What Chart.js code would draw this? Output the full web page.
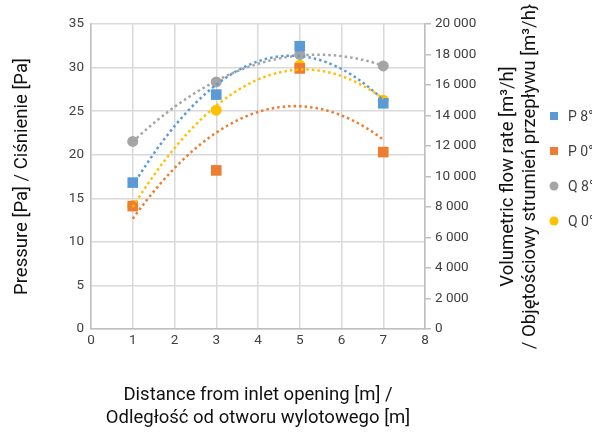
<!DOCTYPE html>
<html>
<head>
<meta charset="utf-8">
<script src="https://cdn.jsdelivr.net/npm/chart.js@4/dist/chart.umd.min.js"></script>
<style>
  html, body { margin: 0; padding: 0; background: #fff; }
  canvas { display: block; }
</style>
</head>
<body>
<canvas id="myChart" width="592" height="435"></canvas>
<script>
// distance from inlet [m]
var distance = [1, 3, 5, 7];
// pressure [Pa]
var pressure8 = [16.8, 26.9, 32.45, 25.9];
var pressure0 = [14.1, 18.2, 29.9, 20.3];
// flow rate [m3/h]
var flow8 = [12300, 16200, 18000, 17250];
var flow0 = [8100, 14350, 17300, 15000];

var seriesNames = ["P 8°", "P 0°", "Q 8°", "Q 0°"];
var colors = ["#5B9BD5", "#ED7D31", "#A5A5A5", "#FFC000"];

var FONT = "Roboto";
var TICK_COLOR = "#404040";
var TITLE_COLOR = "#111111";
var GRID = "#d9d9d9";

function points(ys) {
  return distance.map(function (x, i) { return { x: x, y: ys[i] }; });
}

// least squares fit y = a + b x + c x^2
function quadFit(pts) {
  var s = [0, 0, 0, 0, 0], t = [0, 0, 0];
  pts.forEach(function (p) {
    for (var k = 0; k < 5; k++) s[k] += Math.pow(p.x, k);
    for (var k = 0; k < 3; k++) t[k] += p.y * Math.pow(p.x, k);
  });
  var m = [[s[0], s[1], s[2], t[0]], [s[1], s[2], s[3], t[1]], [s[2], s[3], s[4], t[2]]];
  for (var i = 0; i < 3; i++) {
    for (var j = i + 1; j < 3; j++) {
      var f = m[j][i] / m[i][i];
      for (var k = i; k < 4; k++) m[j][k] -= f * m[i][k];
    }
  }
  var r = [0, 0, 0];
  for (var i = 2; i >= 0; i--) {
    var v = m[i][3];
    for (var k = i + 1; k < 3; k++) v -= m[i][k] * r[k];
    r[i] = v / m[i][i];
  }
  return r;
}

// dotted polynomial trendlines through each series
var trendlines = {
  id: "trendlines",
  afterDatasetsDraw: function (chart) {
    var ctx = chart.ctx, xs = chart.scales.x;
    ctx.save();
    ctx.beginPath();
    ctx.rect(chart.chartArea.left, chart.chartArea.top, chart.chartArea.width, chart.chartArea.height);
    ctx.clip();
    chart.data.datasets.forEach(function (ds) {
      var ys = chart.scales[ds.yAxisID];
      var c = quadFit(ds.data);
      var x0 = distance[0], x1 = distance[distance.length - 1];
      ctx.beginPath();
      for (var k = 0; k <= 60; k++) {
        var x = x0 + (x1 - x0) * k / 60;
        var y = c[0] + c[1] * x + c[2] * x * x;
        var px = xs.getPixelForValue(x), py = ys.getPixelForValue(y);
        if (k === 0) ctx.moveTo(px, py); else ctx.lineTo(px, py);
      }
      ctx.strokeStyle = ds.borderColor;
      ctx.lineWidth = 2.5;
      ctx.setLineDash([2.5, 3]);
      ctx.stroke();
    });
    ctx.restore();
  }
};

// axis titles and legend
var decorations = {
  id: "decorations",
  afterDraw: function (chart) {
    var ctx = chart.ctx, area = chart.chartArea;
    var midY = (area.top + area.bottom) / 2;
    var midX = (area.left + area.right) / 2;
    ctx.save();
    ctx.fillStyle = TITLE_COLOR;
    ctx.font = "18.5px " + FONT;
    ctx.textAlign = "center";
    ctx.textBaseline = "middle";

    ctx.fillText("Distance from inlet opening [m] /", midX, 395);
    ctx.fillText("Odległość od otworu wylotowego [m]", midX, 418);

    ctx.save();
    ctx.translate(22, midY);
    ctx.rotate(-Math.PI / 2);
    ctx.fillText("Pressure [Pa] / Ciśnienie [Pa]", 0, 0);
    ctx.restore();

    ctx.save();
    ctx.translate(508, midY);
    ctx.rotate(-Math.PI / 2);
    ctx.fillText("Volumetric flow rate [m³/h]", 0, 0);
    ctx.fillText("/ Objętościowy strumień przepływu [m³/h}", 0, 22);
    ctx.restore();

    // legend
    ctx.font = "14px " + FONT;
    ctx.textAlign = "left";
    chart.data.datasets.forEach(function (ds, i) {
      var y = 116 + i * 35;
      ctx.fillStyle = ds.backgroundColor;
      if (ds.pointStyle === "rect") {
        ctx.fillRect(550, y - 4, 8, 8);
      } else {
        ctx.beginPath();
        ctx.arc(554, y, 4.5, 0, Math.PI * 2);
        ctx.fill();
      }
      ctx.fillStyle = TICK_COLOR;
      ctx.fillText(ds.label, 568, y + 1);
    });
    ctx.restore();
  }
};

function spaced(v) {
  return String(v).replace(/\B(?=(\d{3})+(?!\d))/g, " ");
}

var ctx = document.getElementById("myChart");
var myChart = new Chart(ctx, {
  type: "scatter",
  data: {
    datasets: [
      { label: seriesNames[0], data: points(pressure8), yAxisID: "y", pointStyle: "rect", pointRadius: 7.5,
        backgroundColor: colors[0], borderColor: colors[0], borderWidth: 0 },
      { label: seriesNames[1], data: points(pressure0), yAxisID: "y", pointStyle: "rect", pointRadius: 7.5,
        backgroundColor: colors[1], borderColor: colors[1], borderWidth: 0 },
      { label: seriesNames[2], data: points(flow8), yAxisID: "y2", pointStyle: "circle", pointRadius: 5.5,
        backgroundColor: colors[2], borderColor: colors[2], borderWidth: 0 },
      { label: seriesNames[3], data: points(flow0), yAxisID: "y2", pointStyle: "circle", pointRadius: 5.5,
        backgroundColor: colors[3], borderColor: colors[3], borderWidth: 0 }
    ]
  },
  options: {
    responsive: false,
    animation: false,
    devicePixelRatio: 1,
    layout: { padding: { top: 24, left: 0, right: 0, bottom: 0 } },
    plugins: {
      legend: { display: false },
      tooltip: { enabled: false }
    },
    scales: {
      x: {
        type: "linear",
        min: 0,
        max: 8,
        ticks: { stepSize: 1, padding: 4, color: TICK_COLOR, font: { family: FONT, size: 13.5 } },
        grid: { color: GRID, lineWidth: 1.5, drawTicks: false },
        border: { color: "#bfbfbf", width: 1.5 },
        afterFit: function (s) { s.height = 106; }
      },
      y: {
        position: "left",
        min: 0,
        max: 35,
        ticks: { stepSize: 5, padding: 7, color: TICK_COLOR, font: { family: FONT, size: 13.5 } },
        grid: { color: GRID, lineWidth: 1.5, drawTicks: false },
        border: { color: "#bfbfbf", width: 1.5 },
        afterFit: function (s) { s.width = 91; }
      },
      y2: {
        position: "right",
        min: 0,
        max: 20000,
        ticks: {
          stepSize: 2000, padding: 4, color: TICK_COLOR, font: { family: FONT, size: 13.5 },
          callback: function (v) { return spaced(v); }
        },
        grid: { drawOnChartArea: false, drawTicks: true, tickLength: 6, color: "#bfbfbf", lineWidth: 1.5 },
        border: { color: "#bfbfbf", width: 1.5 },
        afterFit: function (s) { s.width = 167; }
      }
    }
  },
  plugins: [trendlines, decorations]
});
</script>
</body>
</html>
